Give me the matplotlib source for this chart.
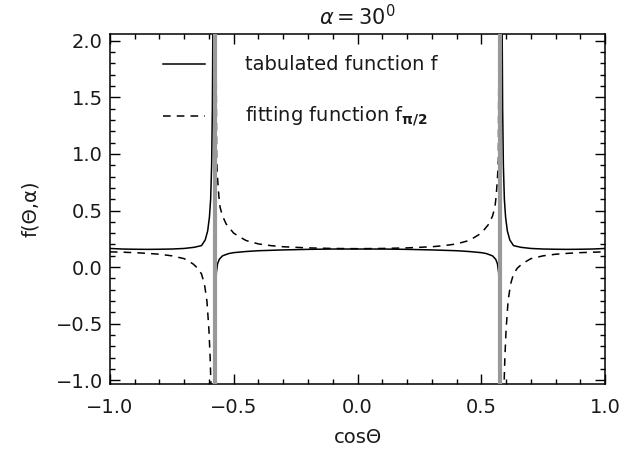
import matplotlib
matplotlib.use('Agg')
import matplotlib.pyplot as plt
from matplotlib.ticker import MultipleLocator
import numpy as np

plt.rcParams['font.family'] = ['DejaVu Sans']
plt.rcParams['mathtext.fontset'] = 'dejavusans'

# asymptotes at cos(theta) = +-1/sqrt(3)
asym = [-0.577, 0.577]

# tabulated function f, three branches
tab_left_x = [-1.0, -0.95, -0.9, -0.85, -0.8, -0.75, -0.7, -0.66, -0.63, -0.615,
              -0.605, -0.598, -0.593, -0.589, -0.586, -0.583]
tab_left_y = [0.165, 0.16, 0.158, 0.157, 0.158, 0.16, 0.165, 0.175, 0.19, 0.24,
              0.32, 0.44, 0.6, 0.9, 1.4, 2.5]
tab_mid_x = [-0.575, -0.573, -0.57, -0.565, -0.558, -0.545, -0.52, -0.5, -0.45, -0.4,
             -0.3, -0.2, -0.1, 0.0, 0.1, 0.2, 0.3, 0.4, 0.45, 0.5, 0.52, 0.545,
             0.558, 0.565, 0.57, 0.573, 0.575]
tab_mid_y = [-2.0, -0.25, -0.05, 0.03, 0.07, 0.1, 0.12, 0.128, 0.138, 0.145,
             0.152, 0.157, 0.16, 0.16, 0.16, 0.157, 0.152, 0.145, 0.138, 0.128,
             0.12, 0.1, 0.07, 0.03, -0.05, -0.25, -2.0]
tab_right_x = [0.583, 0.586, 0.589, 0.593, 0.598, 0.605, 0.615, 0.63, 0.66, 0.7,
               0.75, 0.8, 0.85, 0.9, 0.95, 1.0]
tab_right_y = [2.5, 1.4, 0.9, 0.6, 0.44, 0.32, 0.24, 0.19, 0.175, 0.165,
               0.16, 0.158, 0.157, 0.158, 0.16, 0.165]

# fitting function f_pi/2
fit_left_x = [-1.0, -0.95, -0.9, -0.85, -0.8, -0.75, -0.7, -0.665, -0.645, -0.63,
              -0.618, -0.608, -0.6, -0.595, -0.591, -0.588]
fit_left_y = [0.135, 0.132, 0.128, 0.122, 0.114, 0.1, 0.075, 0.03, -0.01, -0.06,
              -0.15, -0.3, -0.55, -0.8, -1.1, -1.6]
fit_mid_x = [-0.572, -0.569, -0.565, -0.56, -0.555, -0.545, -0.53, -0.515, -0.5, -0.47,
             -0.45, -0.4, -0.35, -0.3, -0.2, -0.1, 0.0, 0.1, 0.2, 0.3, 0.35, 0.4,
             0.45, 0.47, 0.5, 0.515, 0.53, 0.545, 0.555, 0.56, 0.565, 0.569, 0.572]
fit_mid_y = [2.5, 0.95, 0.78, 0.63, 0.53, 0.45, 0.38, 0.34, 0.3, 0.26,
             0.235, 0.205, 0.19, 0.18, 0.17, 0.165, 0.163, 0.165, 0.17, 0.18, 0.19, 0.205,
             0.235, 0.26, 0.3, 0.34, 0.38, 0.45, 0.53, 0.63, 0.78, 0.95, 2.5]
fit_right_x = [0.588, 0.591, 0.595, 0.6, 0.608, 0.618, 0.63, 0.645, 0.665, 0.7,
               0.75, 0.8, 0.85, 0.9, 0.95, 1.0]
fit_right_y = [-1.6, -1.1, -0.8, -0.55, -0.3, -0.15, -0.06, -0.01, 0.03, 0.075,
               0.1, 0.114, 0.122, 0.128, 0.132, 0.135]

fig = plt.figure(figsize=(6.35, 4.51), dpi=100)
ax = fig.add_axes([0.173, 0.149, 0.78, 0.776])

lw = 1.1
txt = '#1a1a1a'
for xs, ys in [(tab_left_x, tab_left_y), (tab_mid_x, tab_mid_y), (tab_right_x, tab_right_y)]:
    ax.plot(xs, ys, color='black', lw=lw)
for xs, ys in [(fit_left_x, fit_left_y), (fit_mid_x, fit_mid_y), (fit_right_x, fit_right_y)]:
    ax.plot(xs, ys, color='black', lw=lw, dashes=(5, 4))

for a in asym:
    ax.axvline(a, color='#999999', lw=3, zorder=5)

# legend drawn by hand like the IDL original
ax.plot([-0.786, -0.616], [1.79, 1.79], color='black', lw=lw)
ax.plot([-0.786, -0.616], [1.333, 1.333], color='black', lw=lw, dashes=(5, 4))
ax.text(-0.455, 1.79, 'tabulated function f', fontsize=14, va='center', ha='left',
        color=txt)
ax.text(-0.455, 1.333, r'fitting function f$_{\mathbf{\pi/2}}$', fontsize=14,
        va='center', ha='left', color=txt)

ax.set_xlim(-1.0, 1.0)
ax.set_ylim(-1.03, 2.06)
ax.xaxis.set_major_locator(MultipleLocator(0.5))
ax.xaxis.set_minor_locator(MultipleLocator(0.1))
ax.yaxis.set_major_locator(MultipleLocator(0.5))
ax.yaxis.set_minor_locator(MultipleLocator(0.1))
fmt = plt.FuncFormatter(lambda v, p: f'{v:.1f}'.replace('-', '\u2212'))
ax.xaxis.set_major_formatter(fmt)
ax.yaxis.set_major_formatter(fmt)
ax.tick_params(which='both', direction='in', top=True, right=True, width=1.0,
               labelsize=14, labelcolor=txt)
ax.tick_params(which='major', length=7)
ax.tick_params(which='minor', length=3.5)
ax.tick_params(axis='x', pad=10)
ax.tick_params(axis='y', pad=5)
for s in ax.spines.values():
    s.set_linewidth(1.1)

ax.set_xlabel('cos\u0398', fontsize=14, labelpad=8, color=txt)
ax.set_ylabel('f(\u0398,\u03b1)', fontsize=14, color=txt)
ax.yaxis.set_label_coords(-0.142, 0.5)
ax.set_title(r'$\alpha = 30^0$', fontsize=15, pad=6, color=txt)

fig.savefig('out.png', dpi=100)
